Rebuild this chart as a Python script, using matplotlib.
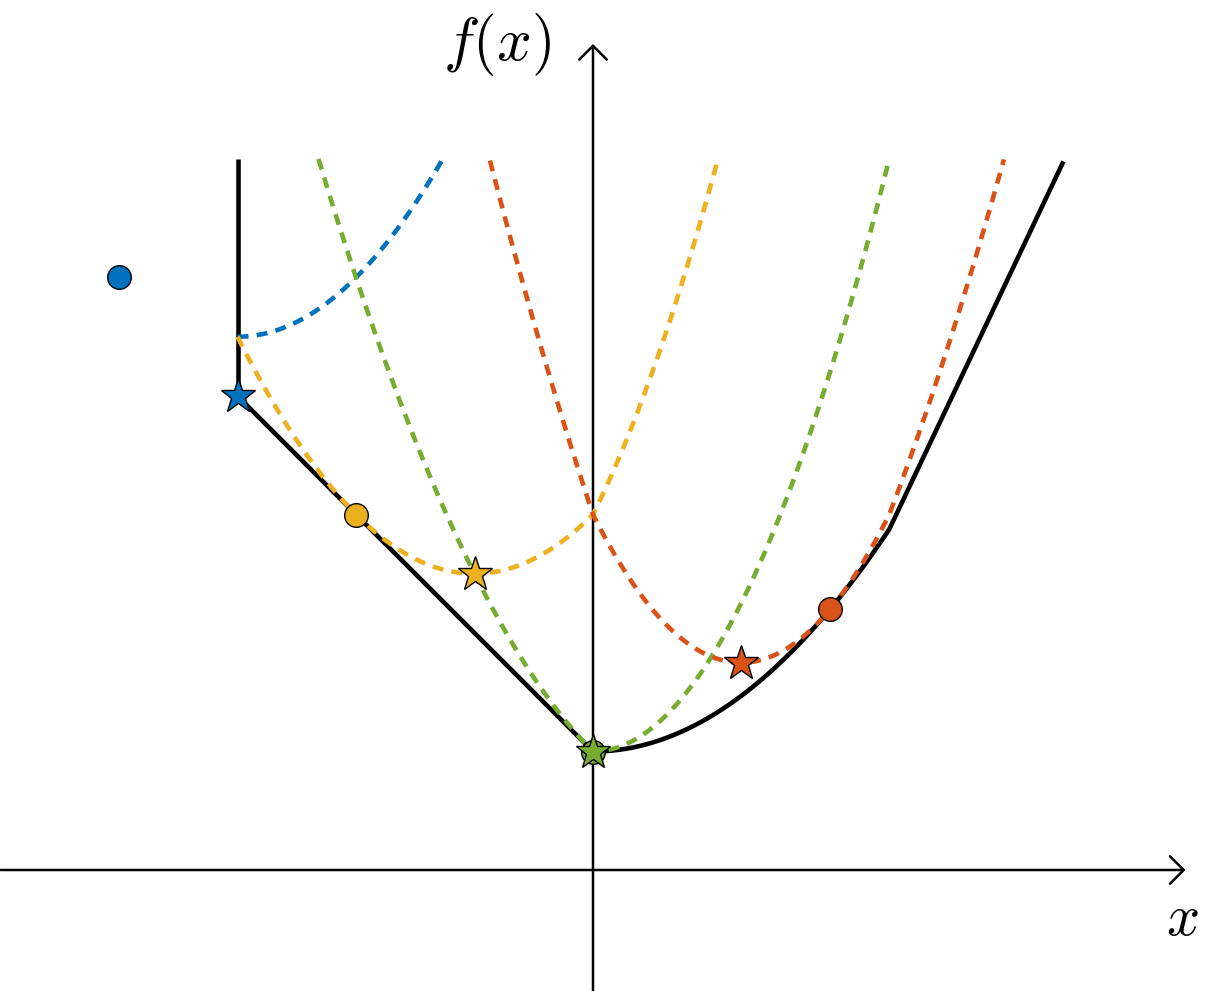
import numpy as np
import matplotlib
matplotlib.use("Agg")
import matplotlib.pyplot as plt
from matplotlib.patches import FancyArrowPatch

plt.rcParams['mathtext.fontset'] = 'cm'

# ---- data ----
colors = ['#0072BD', '#EDB120', '#77AC30', '#D95319']   # blue, yellow, green, orange
v_points = [-4.0, -2.0, 0.0, 2.0]          # points whose prox is shown (circles)
circle_y = [5.0, 3.0, 1.0, 2.2]            # displayed heights of circles
star_x = [-3.0, -1.0, 0.0, 1.25]           # prox points (stars)
star_y = [4.0, 2.5, 1.0, 1.75]
# piecewise function f: domain [-3, 4]
f_breaks = [-3.0, 0.0, 2.5, 3.97]
f_vals_at_breaks = [4.0, 1.0, 2.875, 5.98]
quad_coef = 0.3      # f = 1 + 0.3 x^2 on [0, 2.5]
prox_coef = 0.5      # quadratic penalty 1/(2*lambda)
y_top = 6.0

def f(x):
    x = np.asarray(x, dtype=float)
    out = np.empty_like(x)
    m1 = x <= f_breaks[1]
    m2 = (x > f_breaks[1]) & (x <= f_breaks[2])
    m3 = x > f_breaks[2]
    out[m1] = f_vals_at_breaks[1] - x[m1]
    out[m2] = f_vals_at_breaks[1] + quad_coef * x[m2] ** 2
    slope = (f_vals_at_breaks[3] - f_vals_at_breaks[2]) / (f_breaks[3] - f_breaks[2])
    out[m3] = f_vals_at_breaks[2] + slope * (x[m3] - f_breaks[2])
    return out

S = 118.5
fig = plt.figure(figsize=(12.14, 9.91), dpi=100)
ax = fig.add_axes([0, 0, 1, 1])
ax.set_xlim(-593 / S, (1214 - 593) / S)
ax.set_ylim((870 - 991) / S, 870 / S)
ax.axis('off')

# axes with arrows
for (p0, p1) in [((-5.0, 0.0), (5.0, 0.0)), ((0.0, -1.02), (0.0, 6.97))]:
    arr = FancyArrowPatch(p0, p1, arrowstyle='->,head_length=0.55,head_width=0.55',
                          mutation_scale=18, lw=1.8, color='black',
                          shrinkA=0, shrinkB=0, zorder=1)
    ax.add_patch(arr)

# dashed envelope quadratics
xs = np.linspace(f_breaks[0], f_breaks[3], 2000)
fx = f(xs)
for v, c in zip(v_points, colors):
    q = fx + prox_coef * (xs - v) ** 2
    q = np.where(q <= y_top, q, np.nan)
    ax.plot(xs, q, color=c, lw=3.3, dashes=(2.4, 1.8), zorder=3)

# black function
ax.plot([f_breaks[0], f_breaks[0]], [f_vals_at_breaks[0], y_top], color='black', lw=3.3,
        solid_capstyle='butt', zorder=2)
ax.plot(xs, fx, color='black', lw=3.3, solid_capstyle='butt', zorder=2)

# markers
for v, cy, sx, sy, c in zip(v_points, circle_y, star_x, star_y, colors):
    ax.plot(v, cy, 'o', ms=17, mfc=c, mec='black', mew=1.0, zorder=5)
    ax.plot(sx, sy, '*', ms=26, mfc=c, mec='black', mew=1.0, zorder=6)

ax.text(-96 / S, 825 / S, r'$f(x)$', fontsize=44, ha='center', va='center')
ax.text(589 / S, -48 / S, r'$x$', fontsize=42, ha='center', va='center')

fig.savefig('out.png', dpi=100)
